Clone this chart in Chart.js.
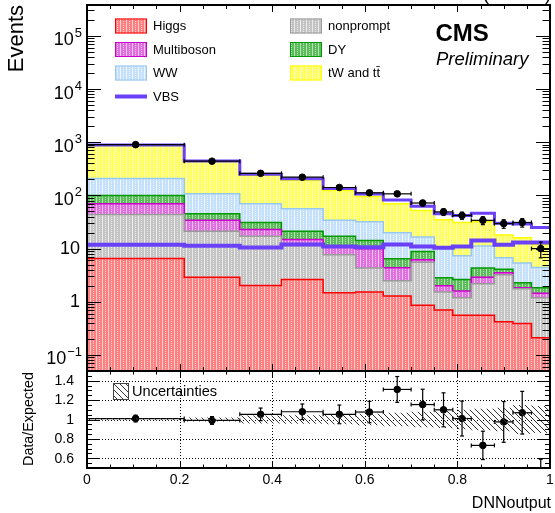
<!DOCTYPE html>
<html>
<head>
<meta charset="utf-8">
<script src="https://cdn.jsdelivr.net/npm/chart.js@4.4.1/dist/chart.umd.min.js"></script>
<style>
html, body { margin: 0; padding: 0; background: #fff; }
#wrap { position: relative; width: 555px; height: 513px; }
#wrap canvas { position: absolute; left: 0; top: 0; }
</style>
</head>
<body>
<div id="wrap">
<canvas id="mainCanvas" width="555" height="513"></canvas>
<canvas id="ratioCanvas" width="555" height="513"></canvas>
</div>
<script>
// bin edges of the DNN output histogram
var binEdges = [0, 0.21, 0.33, 0.42, 0.51, 0.58, 0.64, 0.70, 0.75, 0.79, 0.83, 0.88, 0.92, 0.96, 1.0];

// background components, stacked bottom to top
var higgs      = [6.5, 2.9, 2.03, 2.63, 1.48, 1.52, 1.28, 0.86, 0.70, 0.56, 0.56, 0.42, 0.39, 0.21];
var nonprompt  = [37.1, 18.3, 15.1, 8.8, 6.2, 2.8, 1.2, 4.7, 0.82, 0.63, 1.63, 2.8, 1.37, 0.98];
var multiboson = [26.4, 12.8, 5.7, 3.4, 3.4, 5.6, 1.9, 0.6, 0.48, 0.4, 0.7, 0.3, 0.08, 0.25];
var dy         = [30, 11, 8.2, 6.4, 6.0, 4.3, 2.1, 2.7, 0.83, 1.04, 1.45, 0.55, 0.44, 0.4];
var ww         = [107, 63, 38.5, 34.8, 16.9, 17.6, 13.3, 7.7, 7.5, 4.7, 6.8, 2.65, 3.1, 2.56];
var topQuark   = [671, 326, 170.5, 137, 90, 64, 50, 35.4, 24.7, 23.7, 20.9, 11.3, 10.6, 7.6];
// signal
var vbs        = [11.8, 11.3, 10.5, 11.9, 10.9, 10.6, 12, 10.9, 10.4, 10.9, 14.2, 11.8, 13, 13];

// observed data
var dataCounts = [900, 440, 260, 220, 141, 112, 107, 72, 49, 42, 34, 29.5, 31, 10];
var dataErrors = [30, 21, 16, 15, 12, 11, 10, 8.5, 7, 6.5, 5.8, 5.4, 5.6, 3.3];

// ratio panel
var ratioValues = [1.01, 0.99, 1.053, 1.08, 1.053, 1.077, 1.31, 1.154, 1.10, 1.01, 0.733, 0.975, 1.07, 0.40];
var ratioErrors = [0.035, 0.04, 0.065, 0.08, 0.096, 0.11, 0.133, 0.158, 0.175, 0.18, 0.146, 0.21, 0.22, 0.19];
var ratioUnc    = [0.015, 0.02, 0.04, 0.045, 0.05, 0.06, 0.07, 0.08, 0.087, 0.1, 0.11, 0.12, 0.15, 0.14];

// tick labels
var yDecades = [-1, 0, 1, 2, 3, 4, 5];
var ratioTicks = [0.6, 0.8, 1.0, 1.2, 1.4];
var xTicks = [0, 0.2, 0.4, 0.6, 0.8, 1];
var xTickLabels = ['0', '0.2', '0.4', '0.6', '0.8', '1'];

var FONT = "'Liberation Sans', Arial, Helvetica, sans-serif";

function makePattern(fill, stripe) {
	var c = document.createElement('canvas');
	c.width = 6; c.height = 4;
	var g = c.getContext('2d');
	g.fillStyle = fill; g.fillRect(0, 0, 6, 4);
	g.fillStyle = stripe;
	g.fillRect(0, 0, 1, 4);
	g.fillRect(3, 1, 1, 1);
	g.fillRect(3, 3, 1, 1);
	return g.createPattern(c, 'repeat');
}

function makeHatch() {
	var c = document.createElement('canvas');
	c.width = 6; c.height = 6;
	var g = c.getContext('2d');
	g.strokeStyle = '#333'; g.lineWidth = 1;
	[-6, 0, 6].forEach(function (o) {
		g.beginPath(); g.moveTo(o, 0); g.lineTo(o + 6, 6); g.stroke();
	});
	return g.createPattern(c, 'repeat');
}

var stackSeries = [
	{ label: 'Higgs',      values: higgs,      fill: makePattern('#ff8080', '#ffd0d0'), line: '#ff0000' },
	{ label: 'nonprompt',  values: nonprompt,  fill: makePattern('#c4c4c4', '#eaeaea'), line: '#9a9a9a' },
	{ label: 'Multiboson', values: multiboson, fill: makePattern('#e070e0', '#f6c4f6'), line: '#cc00cc' },
	{ label: 'DY',         values: dy,         fill: makePattern('#5cbc5c', '#b4e2b4'), line: '#009900' },
	{ label: 'WW',         values: ww,         fill: makePattern('#c4e0fa', '#eef6ff'), line: '#99c8ee' },
	{ label: 'tW and tt\u0304', values: topQuark, fill: makePattern('#ffff60', '#ffffc4'), line: '#ffff00' }
];
var vbsColor = '#6a40f8';
var hatch = makeHatch();

function toSteps(vals) {
	return binEdges.map(function (e, i) {
		return { x: e, y: vals[Math.min(i, vals.length - 1)] };
	});
}

var binCenters = binEdges.slice(0, -1).map(function (e, i) { return (e + binEdges[i + 1]) / 2; });

// build stacked cumulative datasets
var running = higgs.map(function () { return 0; });
var mainDatasets = [];
stackSeries.forEach(function (s, idx) {
	running = running.map(function (r, i) { return r + s.values[i]; });
	mainDatasets.push({
		label: s.label,
		data: toSteps(running),
		stepped: 'before',
		borderColor: s.line,
		borderWidth: 1.5,
		backgroundColor: s.fill,
		fill: idx === 0 ? 'start' : '-1',
		pointRadius: 0
	});
});
var totalWithVbs = running.map(function (r, i) { return r + vbs[i]; });
mainDatasets.push({
	label: 'VBS stacked',
	data: toSteps(totalWithVbs),
	stepped: 'before',
	borderColor: vbsColor,
	borderWidth: 3,
	fill: false,
	pointRadius: 0,
	order: -1
});
mainDatasets.push({
	label: 'VBS',
	data: toSteps(vbs),
	stepped: 'before',
	borderColor: vbsColor,
	borderWidth: 4,
	fill: false,
	pointRadius: 0,
	order: -2
});
var mainPointsIndex = mainDatasets.length;
mainDatasets.push({
	label: 'Data',
	data: binCenters.map(function (x, i) { return { x: x, y: dataCounts[i] }; }),
	showLine: false,
	pointRadius: 3.3,
	pointBackgroundColor: '#000',
	pointBorderColor: '#000',
	order: -3
});

function line(ctx, x1, y1, x2, y2) {
	ctx.beginPath(); ctx.moveTo(x1, y1); ctx.lineTo(x2, y2); ctx.stroke();
}

function drawXTicks(chart, major, minor) {
	var ctx = chart.ctx, a = chart.chartArea, sx = chart.scales.x;
	ctx.save();
	ctx.strokeStyle = '#000'; ctx.lineWidth = 1;
	for (var i = 0; i <= 20; i++) {
		var x = Math.round(sx.getPixelForValue(i * 0.05)) + 0.5;
		var len = (i % 4 === 0) ? major : minor;
		line(ctx, x, a.bottom, x, a.bottom - len);
		line(ctx, x, a.top, x, a.top + len);
	}
	ctx.restore();
}

function drawFrame(chart) {
	var ctx = chart.ctx, a = chart.chartArea;
	ctx.save();
	ctx.strokeStyle = '#000'; ctx.lineWidth = 2;
	ctx.strokeRect(a.left, a.top, a.right - a.left, a.bottom - a.top);
	ctx.restore();
}

function drawErrorBars(chart, ys, errs) {
	var ctx = chart.ctx, a = chart.chartArea, sx = chart.scales.x, sy = chart.scales.y;
	ctx.save();
	ctx.beginPath(); ctx.rect(a.left, a.top, a.right - a.left, a.bottom - a.top); ctx.clip();
	ctx.strokeStyle = '#000'; ctx.lineWidth = 1.2;
	for (var i = 0; i < ys.length; i++) {
		var x = sx.getPixelForValue(binCenters[i]);
		var y = sy.getPixelForValue(ys[i]);
		var xl = sx.getPixelForValue(binEdges[i]);
		var xr = sx.getPixelForValue(binEdges[i + 1]);
		var yt = sy.getPixelForValue(ys[i] + errs[i]);
		var yb = sy.getPixelForValue(Math.max(ys[i] - errs[i], 1e-6));
		line(ctx, xl, y, xr, y);
		line(ctx, x, yt, x, yb);
		line(ctx, x - 2, yt, x + 2, yt);
		line(ctx, x - 2, yb, x + 2, yb);
		line(ctx, xl, y - 2, xl, y + 2);
		line(ctx, xr, y - 2, xr, y + 2);
	}
	ctx.restore();
}

var mainDecor = {
	id: 'mainDecor',
	beforeDatasetDraw: function (chart, args) {
		if (args.index === mainPointsIndex) drawErrorBars(chart, dataCounts, dataErrors);
	},
	afterDraw: function (chart) {
		var ctx = chart.ctx, a = chart.chartArea, sy = chart.scales.y;
		ctx.save();
		ctx.strokeStyle = '#000'; ctx.lineWidth = 1;
		// log ticks on both sides
		for (var k = -2; k <= 5; k++) {
			for (var m = 1; m <= 9; m++) {
				var v = m * Math.pow(10, k);
				if (v < sy.min || v > sy.max) continue;
				var y = Math.round(sy.getPixelForValue(v)) + 0.5;
				var len = m === 1 ? 14 : 7.5;
				line(ctx, a.left, y, a.left + len, y);
				line(ctx, a.right, y, a.right - len, y);
			}
		}
		// tick labels
		ctx.fillStyle = '#000';
		yDecades.forEach(function (k) {
			var y = sy.getPixelForValue(Math.pow(10, k));
			if (k === 0 || k === 1) {
				ctx.font = '18px ' + FONT;
				ctx.textAlign = 'right'; ctx.textBaseline = 'middle';
				ctx.fillText(k === 0 ? '1' : '10', 80, y + 0.5);
			} else {
				var ex = (k < 0 ? '\u2212' : '') + Math.abs(k);
				ctx.font = '13px ' + FONT;
				var we = ctx.measureText(ex).width;
				ctx.textAlign = 'left'; ctx.textBaseline = 'alphabetic';
				ctx.fillText(ex, 82 - we, y + 1);
				ctx.font = '18px ' + FONT;
				ctx.textAlign = 'right';
				ctx.fillText('10', 82 - we - 1, y + 9.5);
			}
		});
		ctx.restore();
		drawXTicks(chart, 7, 4);
		drawFrame(chart);

		ctx.save();
		ctx.fillStyle = '#000';
		// axis title
		ctx.translate(17, 5);
		ctx.rotate(-Math.PI / 2);
		ctx.font = '22px ' + FONT;
		ctx.textAlign = 'right'; ctx.textBaseline = 'middle';
		ctx.fillText('Events', 0, 0);
		ctx.restore();

		ctx.save();
		ctx.fillStyle = '#000';
		ctx.textAlign = 'right'; ctx.textBaseline = 'alphabetic';
		ctx.font = '18px ' + FONT;
		ctx.fillText('(13 TeV)', 551, -0.5);
		ctx.textAlign = 'left';
		ctx.font = 'bold 24px ' + FONT;
		ctx.fillText('CMS', 435.5, 41);
		ctx.font = 'italic 18.5px ' + FONT;
		ctx.fillText('Preliminary', 436, 65);

		// legend
		var rows = [26, 49.5, 73, 96.5];
		var entries = [
			{ s: stackSeries[0], x: 115, r: 0 },
			{ s: stackSeries[2], x: 115, r: 1 },
			{ s: stackSeries[4], x: 115, r: 2 },
			{ s: stackSeries[1], x: 290, r: 0 },
			{ s: stackSeries[3], x: 290, r: 1 },
			{ s: stackSeries[5], x: 290, r: 2 }
		];
		ctx.font = '13px ' + FONT;
		ctx.textBaseline = 'middle';
		entries.forEach(function (e) {
			var yc = rows[e.r];
			ctx.fillStyle = e.s.fill;
			ctx.fillRect(e.x, yc - 7.5, 32, 15);
			ctx.strokeStyle = e.s.line; ctx.lineWidth = 1;
			ctx.strokeRect(e.x + 0.5, yc - 7, 31, 14);
			ctx.fillStyle = '#000';
			ctx.fillText(e.s.label, e.x + 38, yc + 0.5);
		});
		ctx.strokeStyle = vbsColor; ctx.lineWidth = 4;
		line(ctx, 115, rows[3], 147, rows[3]);
		ctx.fillStyle = '#000';
		ctx.fillText('VBS', 153, rows[3] + 0.5);
		ctx.restore();
	}
};

new Chart(document.getElementById('mainCanvas'), {
	type: 'line',
	data: { datasets: mainDatasets },
	options: {
		responsive: false,
		animation: false,
		events: [],
		layout: { padding: { left: 87, right: 4, top: 5, bottom: 142 } },
		scales: {
			x: { type: 'linear', min: 0, max: 1, display: false },
			y: { type: 'logarithmic', min: 0.05, max: 3.8e5, display: false }
		},
		plugins: { legend: { display: false }, tooltip: { enabled: false } },
		elements: { line: { tension: 0 } }
	},
	plugins: [mainDecor]
});

// ratio panel
var ratioDatasets = [
	{
		label: 'unc low',
		data: toSteps(ratioUnc.map(function (u) { return 1 - u; })),
		stepped: 'before', borderWidth: 0, fill: false, pointRadius: 0
	},
	{
		label: 'Uncertainties',
		data: toSteps(ratioUnc.map(function (u) { return 1 + u; })),
		stepped: 'before', borderWidth: 0, fill: '-1', backgroundColor: hatch, pointRadius: 0
	},
	{
		label: 'Data/Expected',
		data: binCenters.map(function (x, i) { return { x: x, y: ratioValues[i] }; }),
		showLine: false, pointRadius: 3.3,
		pointBackgroundColor: '#000', pointBorderColor: '#000'
	}
];

var ratioDecor = {
	id: 'ratioDecor',
	beforeDatasetsDraw: function (chart) {
		var ctx = chart.ctx, a = chart.chartArea, sx = chart.scales.x, sy = chart.scales.y;
		ctx.save();
		ctx.strokeStyle = '#000'; ctx.lineWidth = 1;
		ctx.setLineDash([1, 2]);
		xTicks.slice(1, -1).forEach(function (v) {
			var x = Math.round(sx.getPixelForValue(v)) + 0.5;
			line(ctx, x, a.top, x, a.bottom);
		});
		ratioTicks.forEach(function (v) {
			var y = Math.round(sy.getPixelForValue(v)) + 0.5;
			line(ctx, a.left, y, a.right, y);
		});
		ctx.restore();
	},
	beforeDatasetDraw: function (chart, args) {
		if (args.index === 2) drawErrorBars(chart, ratioValues, ratioErrors);
	},
	afterDraw: function (chart) {
		var ctx = chart.ctx, a = chart.chartArea, sx = chart.scales.x, sy = chart.scales.y;
		ctx.save();
		ctx.strokeStyle = '#000'; ctx.lineWidth = 1;
		for (var i = 0; i <= 20; i++) {
			var v = 0.5 + i * 0.05;
			var y = Math.round(sy.getPixelForValue(v)) + 0.5;
			var major = Math.abs(((v - 0.6) / 0.2) - Math.round((v - 0.6) / 0.2)) < 1e-6 && v > 0.55 && v < 1.45;
			var len = major ? 12 : 5;
			line(ctx, a.left, y, a.left + len, y);
			line(ctx, a.right, y, a.right - len, y);
		}
		ctx.fillStyle = '#000';
		ctx.font = '14px ' + FONT;
		ctx.textAlign = 'right'; ctx.textBaseline = 'middle';
		ratioTicks.forEach(function (v) {
			ctx.fillText(v === 1 ? '1' : v.toFixed(1), 74, sy.getPixelForValue(v) + 0.5);
		});
		ctx.textAlign = 'center'; ctx.textBaseline = 'alphabetic';
		xTicks.forEach(function (v, i) {
			ctx.fillText(xTickLabels[i], sx.getPixelForValue(v), 484);
		});
		ctx.font = '16px ' + FONT;
		ctx.textAlign = 'right';
		ctx.fillText('DNNoutput', 551, 508);

		// legend
		ctx.fillStyle = '#fff';
		ctx.fillRect(113, 383, 16, 17);
		ctx.fillStyle = hatch;
		ctx.fillRect(113, 383, 16, 17);
		ctx.strokeStyle = '#444'; ctx.lineWidth = 1;
		ctx.strokeRect(113.5, 383.5, 15, 16);
		ctx.fillStyle = '#000';
		ctx.font = '14.6px ' + FONT;
		ctx.textAlign = 'left'; ctx.textBaseline = 'middle';
		ctx.fillText('Uncertainties', 132, 392);

		ctx.translate(29, 419);
		ctx.rotate(-Math.PI / 2);
		ctx.textAlign = 'center';
		ctx.font = '14.3px ' + FONT;
		ctx.fillText('Data/Expected', 0, 0);
		ctx.restore();

		drawXTicks(chart, 7, 3.5);
		drawFrame(chart);
	}
};

new Chart(document.getElementById('ratioCanvas'), {
	type: 'line',
	data: { datasets: ratioDatasets },
	options: {
		responsive: false,
		animation: false,
		events: [],
		layout: { padding: { left: 87, right: 4, top: 371, bottom: 45 } },
		scales: {
			x: { type: 'linear', min: 0, max: 1, display: false },
			y: { type: 'linear', min: 0.5, max: 1.5, display: false }
		},
		plugins: { legend: { display: false }, tooltip: { enabled: false } },
		elements: { line: { tension: 0 } }
	},
	plugins: [ratioDecor]
});
</script>
</body>
</html>
